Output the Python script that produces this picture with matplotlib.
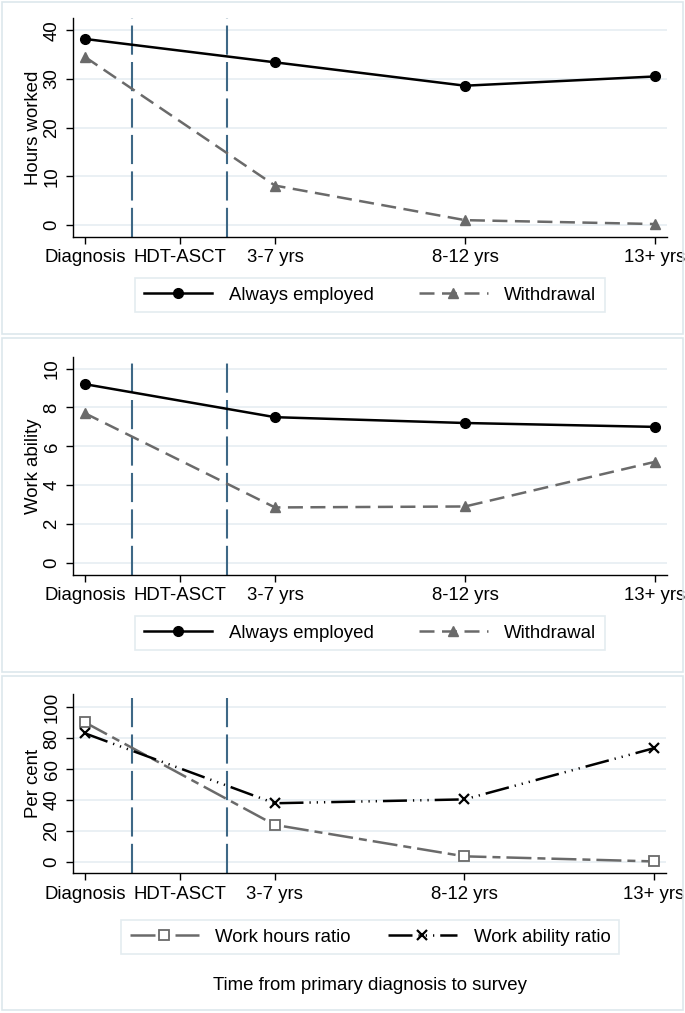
import matplotlib.pyplot as plt
from matplotlib.patches import Rectangle

plt.rcParams['font.family'] = ['Liberation Sans', 'DejaVu Sans']

# time points (x positions reflect the spacing used in the original chart)
periods = ["Diagnosis", "HDT-ASCT", "3-7 yrs", "8-12 yrs", "13+ yrs"]
period_x = [0, 1, 2, 4, 6]
obs_x = [0, 2, 4, 6]          # Diagnosis, 3-7, 8-12, 13+
events_x = [0.5, 1.5]         # vertical reference lines

hours_always = [38.2, 33.4, 28.6, 30.5]
hours_withdraw = [34.5, 8.1, 1.0, 0.2]

ability_always = [9.2, 7.5, 7.2, 7.0]
ability_withdraw = [7.7, 2.85, 2.9, 5.2]

hours_ratio = [90.3, 23.9, 3.5, 0.2]
ability_ratio = [83.2, 37.9, 40.4, 73.6]

W, H = 685, 1013
fig = plt.figure(figsize=(W / 100, H / 100), dpi=100)

FS = 13.4
border_col = '#dde7ec'
grid_col = '#e6eef2'
vline_col = '#3e6886'
gray = '#6a6a6a'


def px_axes(left, top, right, bottom):
    return fig.add_axes([left / W, 1 - bottom / H, (right - left) / W, (bottom - top) / H])


def panel_box(top, bottom):
    fig.add_artist(Rectangle((2 / W, 1 - bottom / H), (683 - 2) / W, (bottom - top) / H,
                             transform=fig.transFigure, fill=False,
                             edgecolor=border_col, lw=1.2))


def style(ax, ylim, yticks, ylabel):
    ax.set_xlim(-0.126, 6.126)
    ax.set_ylim(*ylim)
    ax.set_yticks(yticks)
    ax.set_yticklabels([str(t) for t in yticks], rotation=90, va='center')
    ax.set_xticks(period_x)
    ax.set_xticklabels(periods)
    ax.tick_params(labelsize=FS, length=5, width=1, direction='out', pad=4)
    ax.spines['top'].set_visible(False)
    ax.spines['right'].set_visible(False)
    ax.spines['left'].set_linewidth(1)
    ax.spines['bottom'].set_linewidth(1)
    ax.grid(axis='y', color=grid_col, lw=1.2)
    ax.set_axisbelow(True)
    ax.set_ylabel(ylabel, fontsize=FS, labelpad=1)
    for xv in events_x:
        ax.axvline(xv, color=vline_col, lw=1.5, dashes=(14, 3.5), zorder=1)


def legend(ax, ycenter, spacing):
    leg = ax.legend(loc='center', bbox_to_anchor=(370 / W, 1 - ycenter / H),
                    bbox_transform=fig.transFigure, ncol=2, fontsize=FS,
                    frameon=True, fancybox=False, edgecolor=border_col,
                    handlelength=3.7, handletextpad=0.9, columnspacing=spacing,
                    borderpad=0.45)
    leg.get_frame().set_linewidth(1.2)


# panel 1: hours worked
panel_box(2, 334)
ax1 = px_axes(73, 18, 667, 237)
ax1.plot(obs_x, hours_always, color='black', lw=1.8, marker='o', ms=7,
         label='Always employed', zorder=3)
ax1.plot(obs_x, hours_withdraw, color=gray, lw=1.8, dashes=(6, 3), marker='^', ms=7.5,
         label='Withdrawal', zorder=3)
style(ax1, (-2.46, 42.5), [0, 10, 20, 30, 40], 'Hours worked')
legend(ax1, 295, 2.4)

# panel 2: work ability
panel_box(338, 672)
ax2 = px_axes(73, 357, 667, 575)
ax2.plot(obs_x, ability_always, color='black', lw=1.8, marker='o', ms=7,
         label='Always employed', zorder=3)
ax2.plot(obs_x, ability_withdraw, color=gray, lw=1.8, dashes=(6, 3), marker='^', ms=7.5,
         label='Withdrawal', zorder=3)
style(ax2, (-0.63, 10.6), [0, 2, 4, 6, 8, 10], 'Work ability')
legend(ax2, 633, 2.4)

# panel 3: ratios
panel_box(676, 1010)
ax3 = px_axes(73, 694, 666, 873)
ax3.plot(obs_x, hours_ratio, color=gray, lw=1.8, dashes=(10, 2.4, 3.2, 2.4),
         marker='s', ms=6.5, mfc='white', mec=gray, mew=1.3,
         label='Work hours ratio', zorder=3)
ax3.plot(obs_x, ability_ratio, color='black', lw=1.8,
         dashes=(9.6, 2.4, 0.5, 2.4, 0.5, 2.4, 0.5, 2.4),
         marker='x', ms=7, mew=1.6, label='Work ability ratio', zorder=3)
style(ax3, (-7.3, 108.7), [0, 20, 40, 60, 80, 100], 'Per cent')
legend(ax3, 937, 2.0)
fig.text(370 / W, 1 - 985 / H, 'Time from primary diagnosis to survey',
         ha='center', va='center', fontsize=FS)

fig.savefig('out.png', dpi=100)
